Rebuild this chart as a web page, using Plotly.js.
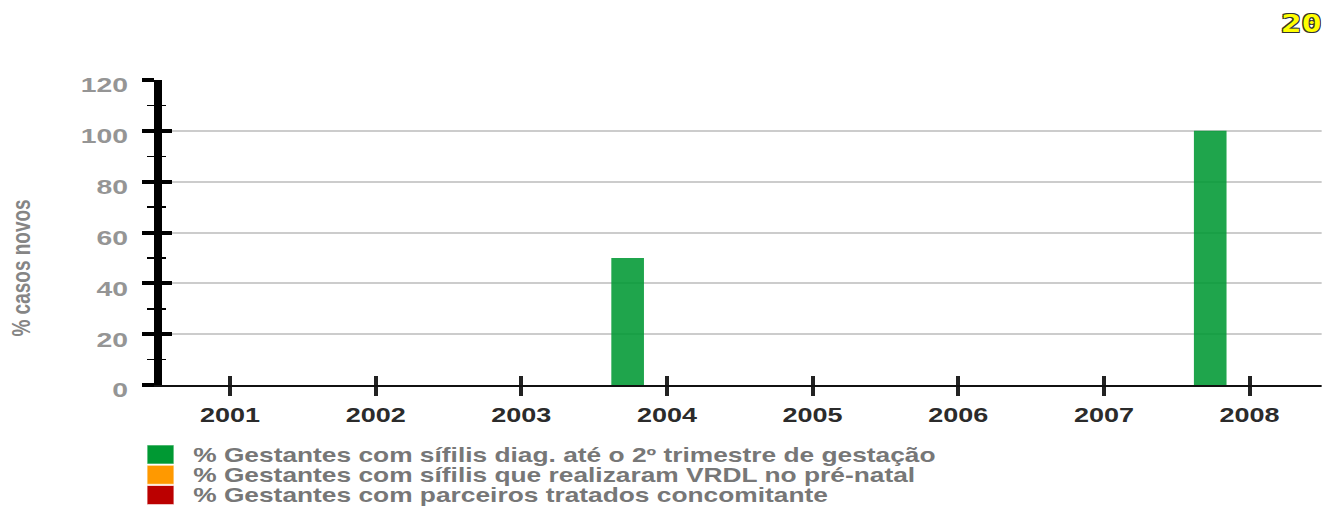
<!DOCTYPE html>
<html>
<head>
<meta charset="utf-8">
<script src="https://cdn.plot.ly/plotly-3.0.1.min.js"></script>
<style>
  html, body { margin: 0; padding: 0; background: #ffffff; overflow: hidden; }
  #chart { transform-origin: 0 0; }
</style>
</head>
<body>
<div id="chart"></div>
<script>
// Years on the horizontal axis
const years = ['2001', '2002', '2003', '2004', '2005', '2006', '2007', '2008'];

// Indicator values (% of new cases) per year
const diagAte2Trimestre = [0, 0, 0, 50, 0, 0, 0, 100];
const realizaramVdrl    = [0, 0, 0, 0, 0, 0, 0, 0];
const parceirosTratados = [0, 0, 0, 0, 0, 0, 0, 0];

const seriesNames = [
  '% Gestantes com sífilis diag. até o 2º trimestre de gestação',
  '% Gestantes com sífilis que realizaram VRDL no pré-natal',
  '% Gestantes com parceiros tratados concomitante'
];
const seriesValues = [diagAte2Trimestre, realizaramVdrl, parceirosTratados];
const seriesColors = ['rgba(0,153,51,0.88)', '#ff9900', '#bb0000'];
const legendColors = ['#009933', '#ff9900', '#bb0000'];

const yTicks = [0, 20, 40, 60, 80, 100, 120];
const yTitle = '% casos novos';
const badge = '20';

// The figure is laid out on a narrower canvas and widened with a horizontal
// scale, which gives the wide lettering of this chart style.
const S = 1.35;
const W = 1322, H = 507;
const PW = W / S;
const M = { l: 162 / S, r: 0, t: 80, b: 122 };
const plotW = PW - M.l - M.r, plotH = H - M.t - M.b;
const px = x => (x / S - M.l) / plotW;      // screen pixel -> paper x
const py = y => (H - M.b - y) / plotH;      // screen pixel -> paper y

// Category range so the first slot starts at the vertical axis
const xRange = [-0.467, 7.495];

const traces = seriesValues.map((vals, i) => ({
  type: 'bar',
  name: seriesNames[i],
  x: years,
  y: vals,
  marker: { color: seriesColors[i], line: { width: 0 } },
  showlegend: false,
  hoverinfo: 'skip'
}));

// Helper trace that carries the overlay axes (ticks crossing the axis lines)
traces.push({
  type: 'scatter', mode: 'markers', x: years, y: years.map(() => 0),
  xaxis: 'x2', yaxis: 'y2', marker: { opacity: 0, size: 1 },
  showlegend: false, hoverinfo: 'skip'
});

const sans = 'Liberation Sans, Arial, Helvetica, sans-serif';

const shapes = [];
const annotations = [];

// Legend built from the series definitions
seriesNames.forEach((name, i) => {
  const top = 445 + i * 20.3;
  shapes.push({
    type: 'rect', xref: 'paper', yref: 'paper',
    x0: px(147), x1: px(174), y0: py(top), y1: py(top + 19),
    fillcolor: legendColors[i], line: { width: 1, color: 'rgba(255,255,255,0.6)' }
  });
  annotations.push({
    xref: 'paper', yref: 'paper', x: px(191), y: py(top + 9.5),
    xanchor: 'left', yanchor: 'middle', showarrow: false,
    text: '<b>' + name + '</b>',
    font: { family: sans, size: 19.5, color: '#777777' }
  });
});

// Vertical axis title
annotations.push({
  xref: 'paper', yref: 'paper', x: px(21), y: py(268),
  xanchor: 'center', yanchor: 'middle', showarrow: false, textangle: -90,
  text: '<b>' + yTitle + '</b>',
  font: { family: sans, size: 19, color: '#858585' }
});

// Badge in the top-right corner
annotations.push({
  xref: 'paper', yref: 'paper', x: px(1302), y: py(23),
  xanchor: 'center', yanchor: 'middle', showarrow: false,
  text: '<b>' + badge + '</b>',
  font: {
    family: 'DejaVu Sans Mono, monospace', size: 25, color: '#ffff00',
    shadow: '1px 1px 0 #333, -1px -1px 0 #333, 1px -1px 0 #333, -1px 1px 0 #333'
  }
});

const layout = {
  width: PW, height: H,
  margin: M,
  paper_bgcolor: '#ffffff', plot_bgcolor: '#ffffff',
  barmode: 'group', bargap: 0.19, bargroupgap: 0.17,
  showlegend: false,
  xaxis: {
    type: 'category', categoryorder: 'array', categoryarray: years,
    range: xRange, fixedrange: true,
    showline: true, linecolor: '#111111', linewidth: 2,
    showgrid: false, zeroline: false,
    ticks: 'outside', ticklen: 9, tickwidth: 3, tickcolor: '#222222',
    ticklabelstandoff: 2,
    tickfont: { family: sans, size: 20, color: '#2b2b2b', weight: 'bold' }
  },
  xaxis2: {
    type: 'category', categoryorder: 'array', categoryarray: years,
    range: xRange, overlaying: 'x', anchor: 'y', side: 'bottom',
    showline: false, showgrid: false, zeroline: false, showticklabels: false,
    ticks: 'inside', ticklen: 9, tickwidth: 3, tickcolor: '#222222'
  },
  yaxis: {
    range: [0, 120], tickvals: yTicks, fixedrange: true,
    showline: true, linecolor: '#000000', linewidth: 6,
    showgrid: true, gridcolor: '#cccccc', gridwidth: 2, zeroline: false,
    ticks: 'outside', ticklen: 9, tickwidth: 4, tickcolor: '#000000',
    minor: { dtick: 10, ticks: 'outside', ticklen: 5, tickwidth: 1.5, tickcolor: '#000000', showgrid: false },
    ticklabelstandoff: 6, ticklabelshift: 5,
    tickfont: { family: sans, size: 21, color: '#959595', weight: 'bold' }
  },
  yaxis2: {
    range: [0, 120], tickvals: yTicks, overlaying: 'y', anchor: 'x', side: 'left',
    showline: false, showgrid: false, zeroline: false, showticklabels: false,
    ticks: 'inside', ticklen: 7.5, tickwidth: 4, tickcolor: '#000000',
    minor: { dtick: 10, ticks: 'inside', ticklen: 3, tickwidth: 1.5, tickcolor: '#000000', showgrid: false }
  },
  shapes: shapes,
  annotations: annotations
};

const el = document.getElementById('chart');
el.style.width = PW + 'px';
el.style.height = H + 'px';
el.style.transform = 'scaleX(' + S + ')';
Plotly.newPlot(el, traces, layout, { staticPlot: true, displayModeBar: false });
</script>
</body>
</html>
